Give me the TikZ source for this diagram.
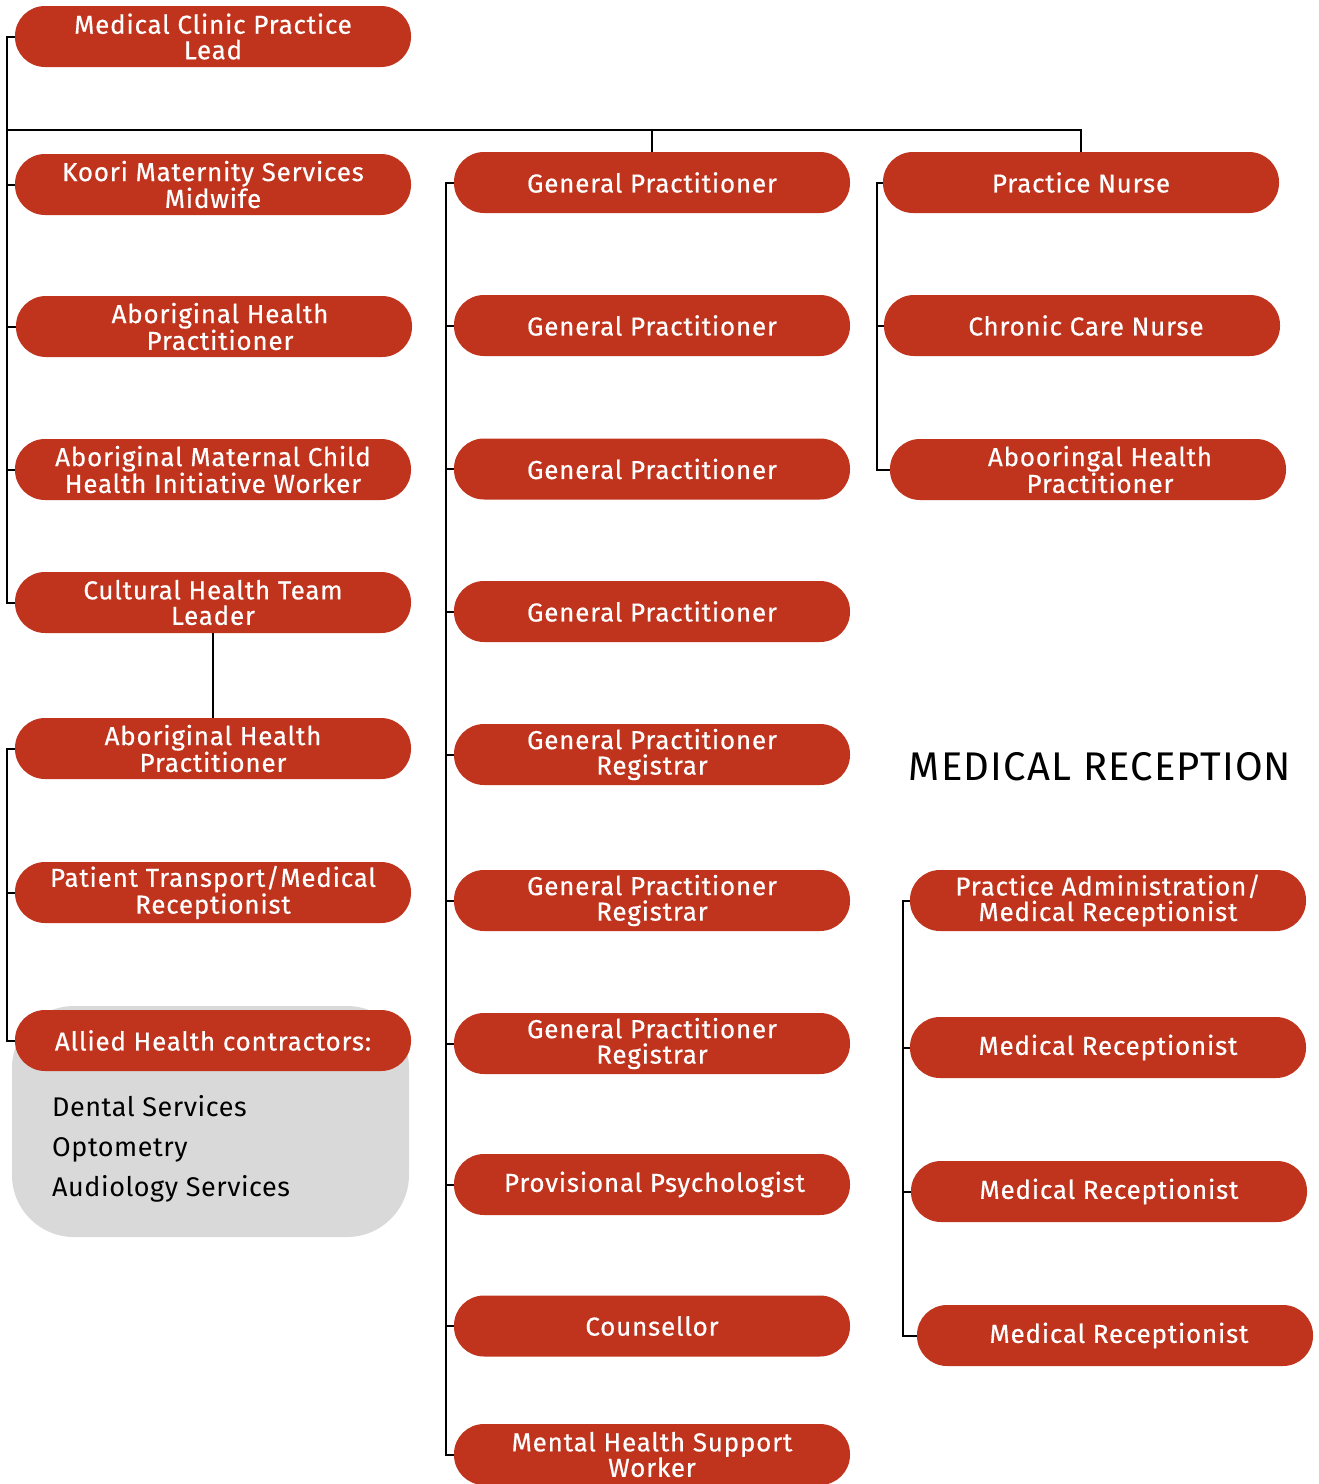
\documentclass[tikz,border=0pt]{standalone}
\usepackage{fontspec}
\setmainfont{Fira Sans}
\newfontfamily\rolefont{Fira Sans}[LetterSpace=3, FakeBold=0.5]
\newfontfamily\headfont{Fira Sans}[LetterSpace=3]
\newfontfamily\itemfont{Fira Sans}[LetterSpace=2]
\usetikzlibrary{calc}
\definecolor{rolered}{HTML}{C0331D}
\definecolor{panelgrey}{HTML}{D9D9D9}
% push one line of a label to the right by half the given amount
\newcommand{\nudge}[1]{\hspace*{#1}}
\begin{document}
\begin{tikzpicture}[x=1pt,y=-1pt,
  role/.style={fill=rolered, draw=none, rounded corners=30pt,
    minimum width=396pt, minimum height=61pt, inner sep=0pt,
    align=center, text=white, font=\rolefont\fontsize{26}{25.5}\selectfont},
  conn/.style={draw=black, line width=2pt},
  heading/.style={font=\headfont\fontsize{40}{40}\selectfont, text=black},
  item/.style={font=\itemfont\fontsize{27}{27}\selectfont, text=black, anchor=base west, inner sep=0pt}]
\useasboundingbox (0,0) rectangle (1318,1484);

% grey panel behind the allied health contractors
\fill[panelgrey, rounded corners=62pt] (12,1006) rectangle (409,1237);

% left column
\node[role] (lead)  at (213,36.5) {Medical Clinic Practice\\Lead};
\node[role] (koori) at (213,184.5) {Koori Maternity Services\\Midwife};
\node[role] (ahp1)  at (214,326.5) {\nudge{12pt}Aboriginal Health\\\nudge{12pt}Practitioner};
\node[role] (amchi) at (213,469.5) {Aboriginal Maternal Child\\Health Initiative Worker};
\node[role] (chtl)  at (213,602.5) {Cultural Health Team\\Leader};
\node[role] (ahp2)  at (213,748.5) {Aboriginal Health\\Practitioner};
\node[role] (ptmr)  at (213,892.5) {Patient Transport/Medical\\Receptionist};
\node[role] (allied) at (213,1040.5) {Allied Health contractors:};
\node[item] (dental) at (52,1116) {Dental Services};
\node[item] (opto)   at (52,1156) {Optometry};
\node[item] (audio)  at (52,1196) {Audiology Services};

% middle column
\node[role] (gp1)  at (652,182.5) {General Practitioner};
\node[role] (gp2)  at (652,325.5) {General Practitioner};
\node[role] (gp3)  at (652,469) {General Practitioner};
\node[role] (gp4)  at (652,611.5) {General Practitioner};
\node[role] (gpr1) at (652,754.5) {General Practitioner\\Registrar};
\node[role] (gpr2) at (652,900.5) {General Practitioner\\Registrar};
\node[role] (gpr3) at (652,1043.5) {General Practitioner\\Registrar};
\node[role] (psy)  at (652,1184.5) {\nudge{5pt}Provisional Psychologist};
\node[role] (coun) at (652,1326) {Counsellor};
\node[role] (mhsw) at (652,1454.5) {Mental Health Support\\Worker};

% right column
\node[role] (pn)   at (1081,182.5) {Practice Nurse};
\node[role] (ccn)  at (1082,325.5) {\nudge{8pt}Chronic Care Nurse};
\node[role] (ahp3) at (1088,469.5) {\nudge{24pt}Abooringal Health\\\nudge{24pt}Practitioner};

\node[heading] (recep) at (1100,767) {MEDICAL RECEPTION};
\node[role] (pamr) at (1108,900.5) {Practice Administration/\\Medical Receptionist};
\node[role] (mr1)  at (1108,1047.5) {Medical Receptionist};
\node[role] (mr2)  at (1109,1191.5) {Medical Receptionist};
\node[role] (mr3)  at (1115,1335.5) {\nudge{8pt}Medical Receptionist};

% spine positions
\coordinate (lsp) at (7,0);
\coordinate (msp) at (446,0);
\coordinate (rsp) at (877,0);
\coordinate (qsp) at (903,0);
\coordinate (bar) at (7,130);

% left spine: practice lead down to cultural health team leader
\draw[conn] (lead.west) -- (lead.west -| lsp) -- (chtl.west -| lsp) -- (chtl.west);
\foreach \n in {koori,ahp1,amchi} \draw[conn] (\n.west) -- (\n.west -| lsp);
% cross bar to the other columns
\draw[conn] (bar) -| (pn.north);
\draw[conn] (gp1.north) -- (gp1.north |- bar);
% cultural health team leader to its practitioner
\draw[conn] (chtl.south) -- (chtl.south |- ahp2.north);
% lower left spine
\draw[conn] (ahp2.west) -- (ahp2.west -| lsp) -- (allied.west -| lsp) -- (allied.west);
\draw[conn] (ptmr.west) -- (ptmr.west -| lsp);

% middle spine
\draw[conn] (gp1.west) -- (gp1.west -| msp) -- (mhsw.west -| msp) -- (mhsw.west);
\foreach \n in {gp2,gp3,gp4,gpr1,gpr2,gpr3,psy,coun} \draw[conn] (\n.west) -- (\n.west -| msp);

% nursing spine
\draw[conn] (pn.west) -- (pn.west -| rsp) -- (ahp3.west -| rsp) -- (ahp3.west);
\draw[conn] (ccn.west) -- (ccn.west -| rsp);

% reception spine
\draw[conn] (pamr.west) -- (pamr.west -| qsp) -- (mr3.west -| qsp) -- (mr3.west);
\foreach \n in {mr1,mr2} \draw[conn] (\n.west) -- (\n.west -| qsp);
\end{tikzpicture}
\end{document}
